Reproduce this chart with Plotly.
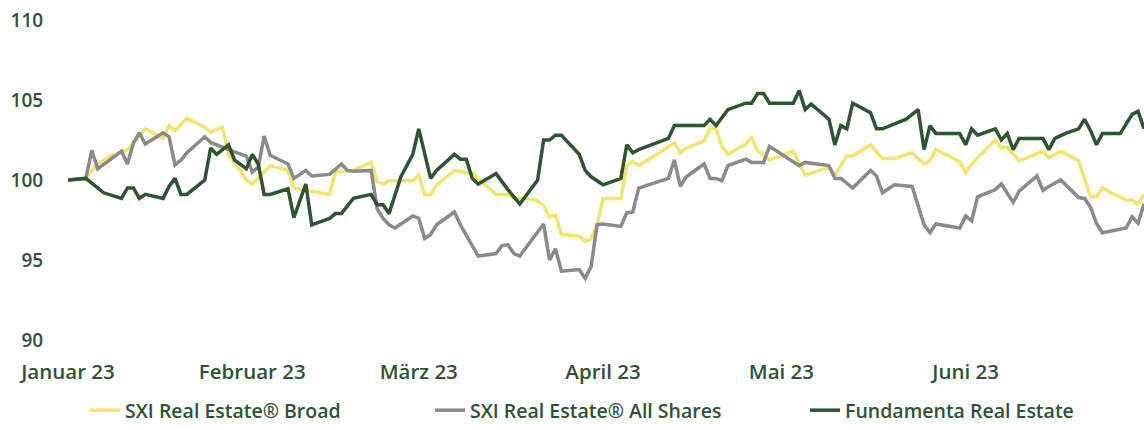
import plotly.graph_objects as go

# ---------------- data ----------------
dates_broad = [
    "2023-01-01", "2023-01-04", "2023-01-06", "2023-01-08", "2023-01-10", "2023-01-11", "2023-01-13", "2023-01-14",
    "2023-01-17", "2023-01-18", "2023-01-19", "2023-01-21", "2023-01-24", "2023-01-25", "2023-01-27", "2023-01-28",
    "2023-01-30", "2023-01-31", "2023-02-01", "2023-02-02", "2023-02-04", "2023-02-07", "2023-02-08", "2023-02-11",
    "2023-02-14", "2023-02-15", "2023-02-18", "2023-02-21", "2023-02-22", "2023-02-23", "2023-02-24", "2023-02-28",
    "2023-03-01", "2023-03-02", "2023-03-03", "2023-03-04", "2023-03-07", "2023-03-09", "2023-03-10", "2023-03-14",
    "2023-03-15", "2023-03-16", "2023-03-17", "2023-03-19", "2023-03-21", "2023-03-22", "2023-03-23", "2023-03-24",
    "2023-03-25", "2023-03-28", "2023-03-29", "2023-03-30", "2023-03-31", "2023-04-01", "2023-04-04", "2023-04-05",
    "2023-04-06", "2023-04-07", "2023-04-13", "2023-04-14", "2023-04-15", "2023-04-18", "2023-04-19", "2023-04-20",
    "2023-04-21", "2023-04-22", "2023-04-25", "2023-04-26", "2023-04-27", "2023-04-29", "2023-05-03", "2023-05-05",
    "2023-05-09", "2023-05-10", "2023-05-11", "2023-05-12", "2023-05-13", "2023-05-16", "2023-05-18", "2023-05-20",
    "2023-05-23", "2023-05-25", "2023-05-26", "2023-05-27", "2023-05-31", "2023-06-01", "2023-06-02", "2023-06-06",
    "2023-06-07", "2023-06-08", "2023-06-10", "2023-06-14", "2023-06-15", "2023-06-17", "2023-06-20", "2023-06-22",
    "2023-06-23", "2023-06-24", "2023-06-26", "2023-06-28", "2023-06-29", "2023-06-30", "2023-07-01",
]
broad = [
    100.0, 100.1, 101.0, 101.5, 101.7, 101.9, 102.7, 103.2,
    102.6, 103.4, 103.1, 103.85, 103.3, 103.0, 103.3, 101.6,
    100.6, 100.0, 99.75, 100.1, 100.9, 100.6, 99.5, 99.3,
    99.1, 100.5, 100.6, 101.1, 99.9, 99.75, 99.95, 99.95,
    100.3, 99.1, 99.1, 99.7, 100.6, 100.45, 100.45, 99.1,
    99.1, 99.1, 98.85, 98.85, 98.7, 98.4, 97.7, 97.8,
    96.6, 96.5, 96.15, 96.3, 97.2, 98.85, 98.85, 100.9,
    101.15, 100.9, 102.3, 101.7, 102.0, 102.45, 103.25, 103.2,
    102.1, 101.6, 102.25, 102.65, 101.8, 101.25, 101.8, 100.3,
    100.8, 100.3, 100.9, 101.5, 101.5, 102.2, 101.35, 101.35,
    101.7, 101.0, 101.2, 101.9, 101.15, 100.45, 101.0, 102.5,
    102.0, 102.05, 101.2, 101.8, 101.4, 101.8, 101.2, 98.95,
    98.95, 99.5, 99.1, 98.75, 98.75, 98.5, 99.1,
]

dates_all = [
    "2023-01-01", "2023-01-04", "2023-01-05", "2023-01-06", "2023-01-10", "2023-01-11", "2023-01-12", "2023-01-13",
    "2023-01-14", "2023-01-17", "2023-01-18", "2023-01-19", "2023-01-20", "2023-01-21", "2023-01-24", "2023-01-25",
    "2023-01-28", "2023-01-31", "2023-02-01", "2023-02-02", "2023-02-03", "2023-02-04", "2023-02-07", "2023-02-08",
    "2023-02-10", "2023-02-11", "2023-02-14", "2023-02-16", "2023-02-17", "2023-02-18", "2023-02-21", "2023-02-22",
    "2023-02-23", "2023-02-24", "2023-02-25", "2023-02-28", "2023-03-01", "2023-03-02", "2023-03-03", "2023-03-04",
    "2023-03-07", "2023-03-08", "2023-03-11", "2023-03-14", "2023-03-15", "2023-03-16", "2023-03-17", "2023-03-18",
    "2023-03-22", "2023-03-23", "2023-03-24", "2023-03-25", "2023-03-28", "2023-03-29", "2023-03-30", "2023-03-31",
    "2023-04-01", "2023-04-04", "2023-04-05", "2023-04-06", "2023-04-07", "2023-04-12", "2023-04-13", "2023-04-14",
    "2023-04-15", "2023-04-18", "2023-04-19", "2023-04-20", "2023-04-21", "2023-04-22", "2023-04-25", "2023-04-26",
    "2023-04-28", "2023-04-29", "2023-05-04", "2023-05-05", "2023-05-09", "2023-05-10", "2023-05-11", "2023-05-13",
    "2023-05-16", "2023-05-17", "2023-05-18", "2023-05-20", "2023-05-23", "2023-05-25", "2023-05-26", "2023-05-27",
    "2023-05-31", "2023-06-01", "2023-06-02", "2023-06-03", "2023-06-06", "2023-06-07", "2023-06-09", "2023-06-10",
    "2023-06-13", "2023-06-14", "2023-06-15", "2023-06-17", "2023-06-20", "2023-06-21", "2023-06-22", "2023-06-23",
    "2023-06-24", "2023-06-27", "2023-06-28", "2023-06-29", "2023-06-30", "2023-07-01",
]
all_shares = [
    100.0, 100.1, 101.85, 100.7, 101.8, 101.0, 102.3, 102.95,
    102.25, 102.95, 102.7, 100.95, 101.25, 101.7, 102.7, 102.35,
    101.9, 101.5, 100.5, 100.8, 102.75, 101.55, 101.0, 100.1,
    100.6, 100.25, 100.35, 101.0, 100.6, 100.55, 100.6, 98.2,
    97.6, 97.2, 97.0, 97.75, 97.6, 96.35, 96.6, 97.2,
    98.0, 97.2, 95.25, 95.4, 95.9, 95.95, 95.4, 95.25,
    97.25, 95.0, 95.7, 94.3, 94.4, 93.85, 94.6, 97.2,
    97.25, 97.1, 97.95, 98.0, 99.5, 100.1, 101.25, 99.6,
    100.2, 101.0, 100.1, 100.1, 99.95, 100.9, 101.3, 101.1,
    101.1, 102.1, 100.9, 101.1, 100.9, 100.1, 100.1, 99.5,
    100.6, 100.25, 99.2, 99.7, 99.6, 97.2, 96.7, 97.25,
    97.0, 97.75, 97.45, 98.95, 99.4, 99.75, 98.6, 99.3,
    100.25, 99.35, 99.6, 100.0, 98.9, 98.85, 98.3, 97.3,
    96.7, 96.9, 97.0, 97.7, 97.3, 98.5,
]

dates_fund = [
    "2023-01-01", "2023-01-04", "2023-01-07", "2023-01-10", "2023-01-11", "2023-01-12", "2023-01-13", "2023-01-14",
    "2023-01-17", "2023-01-18", "2023-01-19", "2023-01-20", "2023-01-21", "2023-01-24", "2023-01-25", "2023-01-26",
    "2023-01-28", "2023-01-29", "2023-01-31", "2023-02-01", "2023-02-02", "2023-02-03", "2023-02-04", "2023-02-07",
    "2023-02-08", "2023-02-10", "2023-02-11", "2023-02-14", "2023-02-15", "2023-02-16", "2023-02-18", "2023-02-21",
    "2023-02-22", "2023-02-23", "2023-02-24", "2023-02-26", "2023-02-28", "2023-03-01", "2023-03-03", "2023-03-04",
    "2023-03-07", "2023-03-08", "2023-03-09", "2023-03-10", "2023-03-11", "2023-03-14", "2023-03-16", "2023-03-18",
    "2023-03-21", "2023-03-22", "2023-03-23", "2023-03-24", "2023-03-25", "2023-03-28", "2023-03-29", "2023-03-30",
    "2023-04-01", "2023-04-04", "2023-04-05", "2023-04-06", "2023-04-07", "2023-04-12", "2023-04-13", "2023-04-18",
    "2023-04-19", "2023-04-20", "2023-04-22", "2023-04-25", "2023-04-26", "2023-04-27", "2023-04-28", "2023-04-29",
    "2023-05-03", "2023-05-04", "2023-05-05", "2023-05-06", "2023-05-09", "2023-05-10", "2023-05-11", "2023-05-12",
    "2023-05-13", "2023-05-16", "2023-05-17", "2023-05-18", "2023-05-22", "2023-05-24", "2023-05-25", "2023-05-26",
    "2023-05-27", "2023-05-31", "2023-06-01", "2023-06-02", "2023-06-03", "2023-06-06", "2023-06-07", "2023-06-08",
    "2023-06-09", "2023-06-10", "2023-06-14", "2023-06-15", "2023-06-16", "2023-06-18", "2023-06-20", "2023-06-21",
    "2023-06-22", "2023-06-23", "2023-06-24", "2023-06-27", "2023-06-29", "2023-06-30", "2023-07-01",
]
fundamenta = [
    100.0, 100.1, 99.2, 98.85, 99.5, 99.5, 98.85, 99.1,
    98.85, 99.6, 100.1, 99.1, 99.1, 100.0, 102.0, 101.6,
    102.2, 101.25, 100.7, 101.6, 101.0, 99.1, 99.1, 99.45,
    97.65, 99.75, 97.2, 97.6, 97.9, 97.9, 98.85, 99.1,
    98.45, 98.45, 97.9, 100.2, 101.6, 103.2, 100.1, 100.6,
    101.6, 101.3, 101.3, 100.1, 99.75, 100.4, 99.4, 98.5,
    100.0, 102.5, 102.5, 102.8, 102.8, 101.6, 100.6, 100.2,
    99.7, 100.1, 102.2, 101.7, 101.9, 102.6, 103.4, 103.4,
    103.8, 103.4, 104.4, 104.8, 104.8, 105.4, 105.4, 104.8,
    104.8, 105.6, 104.4, 104.75, 103.8, 102.2, 103.4, 103.2,
    104.8, 104.2, 103.2, 103.2, 103.8, 104.4, 101.9, 103.4,
    102.9, 102.9, 102.2, 103.2, 102.8, 103.2, 102.5, 102.9,
    101.9, 102.6, 102.6, 101.9, 102.6, 102.95, 103.2, 103.8,
    103.1, 102.2, 102.9, 102.9, 104.1, 104.3, 103.2,
]

series_names = ["SXI Real Estate® Broad", "SXI Real Estate® All Shares", "Fundamenta Real Estate"]
month_ticks = ["2023-01-01", "2023-02-01", "2023-03-01", "2023-04-01", "2023-05-01", "2023-06-01"]
month_labels = ["Januar 23", "Februar 23", "März 23", "April 23", "Mai 23", "Juni 23"]
y_ticks = [90, 95, 100, 105, 110]

assert len(dates_broad) == len(broad)
assert len(dates_all) == len(all_shares)
assert len(dates_fund) == len(fundamenta)

# ---------------- style ----------------
YELLOW = "#F2E46E"
GRAY = "#8A8A8A"
GREEN = "#2E5532"
TEXT = "#2F5233"
FONT = "Open Sans, Noto Sans, sans-serif"

fig = go.Figure()
fig.add_trace(go.Scatter(x=dates_broad, y=broad, mode="lines", name=series_names[0],
                         line=dict(color=YELLOW, width=3.5), legend="legend"))
fig.add_trace(go.Scatter(x=dates_all, y=all_shares, mode="lines", name=series_names[1],
                         line=dict(color=GRAY, width=3.5), legend="legend2"))
fig.add_trace(go.Scatter(x=dates_fund, y=fundamenta, mode="lines", name=series_names[2],
                         line=dict(color=GREEN, width=3.5), legend="legend3"))

xtickfont = dict(family=FONT, size=20.5, color=TEXT, weight=600)
ytickfont = dict(family=FONT, size=19, color=TEXT, weight=600)
legfont = dict(family=FONT, size=19.5, color=TEXT, weight=600)

def leg(x):
    return dict(x=x, xref="paper", y=0.0, yref="container", xanchor="left", yanchor="bottom",
                orientation="h", font=legfont, bgcolor="rgba(0,0,0,0)", borderwidth=0)

fig.update_layout(
    width=1144, height=430,
    margin=dict(l=68, r=0, t=20, b=90, autoexpand=False),
    paper_bgcolor="white", plot_bgcolor="white",
    showlegend=True,
    xaxis=dict(type="date", range=["2023-01-01", "2023-07-01"], tickmode="array",
               tickvals=month_ticks, ticktext=month_labels, showgrid=False, zeroline=False,
               showline=False, ticks="outside", ticklen=13, tickcolor="rgba(0,0,0,0)",
               tickfont=xtickfont),
    yaxis=dict(range=[90, 110], tickmode="array", tickvals=y_ticks, showgrid=False,
               zeroline=False, showline=False, ticks="outside", ticklen=20,
               tickcolor="rgba(0,0,0,0)", tickfont=ytickfont),
    legend=leg(0.0158),
    legend2=leg(0.3364),
    legend3=leg(0.685),
)

fig.write_html("out.html", config={"displayModeBar": False},
               post_script="document.body.style.margin='0';")
